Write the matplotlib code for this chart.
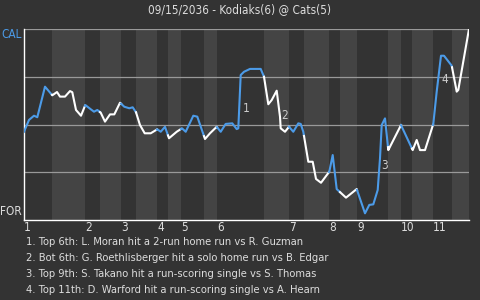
import numpy as np
import matplotlib
matplotlib.use('Agg')
from matplotlib import pyplot as plt

title = '09/15/2036 - Kodiaks(6) @ Cats(5)'
top_team, bot_team = 'CAL', 'FOR'
innings = ['1', '2', '3', '4', '5', '6', '7', '8', '9', '10', '11']
# game progress where each inning / bottom half starts
inn_start = [0, 61, 97, 133, 157, 193, 265, 305, 333, 377, 409]
inn_mid = [28, 76, 112, 144, 180, 240, 280, 316, 364, 388, 428]
game_end = 445

# win probability (% CAL) along the game
prog = [0, 5, 10, 13.3, 21, 28.3, 33, 36, 41, 46, 48.3, 52, 57, 61.3, 66.7, 70,
        73.3, 76.7, 81, 86, 90.3, 96, 100.3, 105.3, 108.7, 112, 116, 120.7, 126.7,
        133.3, 136.7, 141, 145, 152.7, 158, 161.7, 169.3, 173.3, 181, 186, 192.7,
        196.7, 201.7, 208.3, 212.7, 214.3, 216.7, 220, 226, 236.7, 240, 244.3,
        247.7, 252.7, 256, 256.7, 261, 265, 269.3, 274.3, 276.7, 279.3, 284.3,
        288.7, 292, 297, 305.3, 308.7, 312.7, 322, 332.7, 341, 345.3, 349.3,
        353.7, 356, 357.7, 361, 364.3, 377, 388.7, 392.7, 396, 401, 409.3, 412.7,
        417, 420, 427.7, 432.7, 434.3, 445]
wp = [46.2, 52.4, 54.6, 53.8, 69.8, 65.3, 67.0, 64.6, 64.6, 67.5, 66.9, 57.6,
      54.6, 60.2, 58.0, 56.7, 57.6, 56.2, 51.5, 55.3, 55.3, 61.4, 59.3, 58.5,
      59.0, 56.4, 49.7, 45.4, 45.4, 47.5, 46.2, 48.8, 42.8, 46.2, 48.0, 46.2,
      54.6, 54.1, 42.4, 45.4, 48.8, 46.2, 50.3, 50.6, 47.6, 48.0, 75.9, 77.6,
      79.1, 79.1, 75.0, 60.6, 62.8, 67.7, 54.1, 48.0, 46.2, 48.8, 46.2, 50.6,
      50.3, 46.2, 30.5, 30.5, 21.5, 19.5, 25.3, 34.0, 16.2, 11.7, 16.2, 3.5,
      7.9, 8.2, 15.7, 32.3, 49.7, 53.2, 36.6, 49.7, 36.6, 41.9, 36.6, 36.6,
      50.3, 67.2, 86.0, 86.0, 80.8, 67.2, 68.1, 100]

events = ['Top 6th: L. Moran hit a 2-run home run vs R. Guzman',
          'Bot 6th: G. Roethlisberger hit a solo home run vs B. Edgar',
          'Top 9th: S. Takano hit a run-scoring single vs S. Thomas',
          'Top 11th: D. Warford hit a run-scoring single vs A. Hearn']
event_x = [218.7, 257.7, 357, 417]
event_y = [58.6, 54.5, 28.3, 73.7]

bg = '#333333'
band = '#444444'
blue = '#4c9be8'
txt = '#dddddd'
font = dict(family='DejaVu Sans', stretch='condensed')

fig = plt.figure(figsize=(4.8, 3), dpi=100, facecolor=bg)
ax = fig.add_axes([24/480, 80/300, 445/480, 191/300])
ax.set_facecolor(bg)

# top halves blue, bottom halves white on a lighter band
bounds = sorted(inn_start + inn_mid + [game_end])
xs, ys = np.array(prog, dtype=float), np.array(wp, dtype=float)
for i in range(len(bounds) - 1):
    a, b = float(bounds[i]), float(bounds[i + 1])
    top_half = (i % 2 == 0)
    if not top_half:
        ax.axvspan(a, b, color=band, lw=0, zorder=0)
    inside = (xs > a) & (xs < b)
    sx = np.concatenate([[a], xs[inside], [b]])
    sy = np.interp(sx, xs, ys)
    ax.plot(sx, sy, color=(blue if top_half else 'white'), lw=1.5, zorder=3)

for g in [25, 50, 75, 100]:
    ax.axhline(g, color='#999999', lw=0.9, zorder=1)

for n, (x, y) in enumerate(zip(event_x, event_y)):
    ax.text(x, y, str(n + 1), color='#cccccc', fontsize=8.5, ha='left',
            va='center', zorder=5, **font)

ax.set_xlim(0, game_end)
ax.set_ylim(0, 100)
for s in ['top', 'right']:
    ax.spines[s].set_visible(False)
for s in ['left', 'bottom']:
    ax.spines[s].set_color('white')
    ax.spines[s].set_linewidth(1)
ax.set_yticks([])
ax.set_xticks(inn_start)
ax.set_xticklabels(innings, ha='left', color=txt, fontsize=8.5, **font)
ax.tick_params(axis='x', length=0, pad=1)

ax.text(-2, 97, top_team, ha='right', va='center', color=blue,
        fontsize=8.5, **font)
ax.text(-2, 4.2, bot_team, ha='right', va='center', color=txt,
        fontsize=8.5, **font)

fig.text(0.5, 1 - 13/300, title, ha='center', va='baseline', color=txt,
         fontsize=8.5, **font)
for n, e in enumerate(events):
    fig.text(26/480, 1 - (242 + 16*n)/300, f'{n + 1}. {e}', ha='left',
             va='center', color=txt, fontsize=8, **font)

fig.savefig('out.png', dpi=100, facecolor=bg)
